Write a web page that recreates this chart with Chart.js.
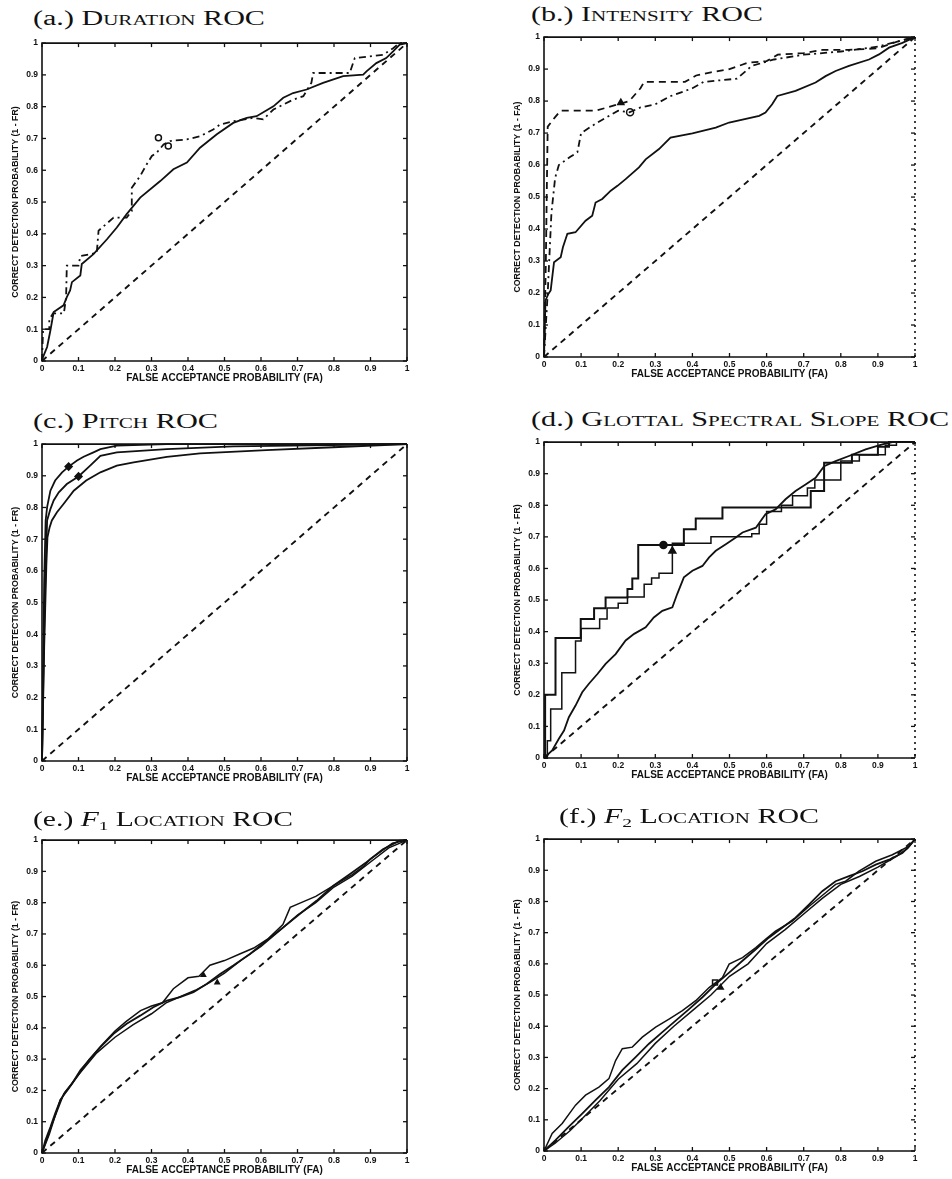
<!DOCTYPE html>
<html><head><meta charset="utf-8">
<script src="https://cdn.jsdelivr.net/npm/chart.js@4.4.1/dist/chart.umd.min.js"></script>
<style>
html,body{margin:0;padding:0;background:#fff;}
#wrap{position:relative;width:952px;height:1179px;overflow:hidden;background:#fff;}
canvas{position:absolute;}
.ttl{position:absolute;font-family:"Liberation Serif","DejaVu Serif",serif;font-size:20px;line-height:20px;color:#111;white-space:nowrap;transform-origin:0 50%;}
.ttl .nm{font-variant:small-caps;}
.ttl sub{font-size:0.65em;vertical-align:-0.3em;line-height:0;}
</style></head>
<body><div id="wrap"></div>
<script>
// ---------- tick labels & axis titles ----------
const xTickLabels = ['0','0.1','0.2','0.3','0.4','0.5','0.6','0.7','0.8','0.9','1'];
const yTickLabels = ['0','0.1','0.2','0.3','0.4','0.5','0.6','0.7','0.8','0.9','1'];
const xTitle = 'FALSE ACCEPTANCE PROBABILITY (FA)';
const yTitleFR = 'CORRECT DETECTION PROBABILITY (1 - FR)';
const yTitleFA = 'CORRECT DETECTION PROBABILITY (1 - FA)';
const panelLabels = ['(a.)','(b.)','(c.)','(d.)','(e.)','(f.)'];
const panelNames = ['Duration ROC','Intensity ROC','Pitch ROC','Glottal Spectral Slope ROC','<i>F</i><sub>1</sub> Location ROC','<i>F</i><sub>2</sub> Location ROC'];
const chance = [[0,0],[1,1]];

// ---------- (a) Duration ----------
const aSolid = [[0,0],[0.003,0.013],[0.014,0.044],[0.023,0.096],[0.032,0.154],[0.059,0.175],[0.068,0.201],[0.077,0.222],[0.082,0.248],[0.105,0.269],[0.109,0.305],[0.141,0.336],[0.178,0.383],[0.205,0.42],[0.232,0.462],[0.269,0.514],[0.324,0.566],[0.36,0.603],[0.397,0.624],[0.433,0.671],[0.479,0.713],[0.524,0.749],[0.561,0.765],[0.588,0.77],[0.634,0.801],[0.661,0.828],[0.688,0.843],[0.725,0.854],[0.77,0.875],[0.825,0.896],[0.88,0.901],[0.889,0.911],[0.916,0.937],[0.943,0.953],[0.962,0.974],[0.98,0.995],[1,1]];
const aDash = [[0,0],[0.003,0.1],[0.02,0.1],[0.02,0.13],[0.03,0.15],[0.06,0.15],[0.066,0.2],[0.068,0.3],[0.1,0.3],[0.105,0.33],[0.15,0.34],[0.155,0.41],[0.196,0.451],[0.232,0.451],[0.246,0.472],[0.246,0.545],[0.269,0.582],[0.287,0.619],[0.301,0.645],[0.314,0.655],[0.333,0.681],[0.351,0.692],[0.397,0.697],[0.433,0.707],[0.469,0.728],[0.488,0.744],[0.524,0.754],[0.579,0.765],[0.606,0.76],[0.634,0.791],[0.688,0.822],[0.716,0.833],[0.738,0.875],[0.743,0.906],[0.843,0.906],[0.857,0.953],[0.934,0.963],[0.962,0.984],[0.98,1],[1,1]];
const aMarks = [[0.319,0.702],[0.346,0.676]];

// ---------- (b) Intensity ----------
const bSolid = [[0,0],[0.004,0.177],[0.012,0.198],[0.018,0.208],[0.027,0.296],[0.045,0.312],[0.051,0.343],[0.063,0.385],[0.085,0.39],[0.112,0.426],[0.13,0.442],[0.139,0.483],[0.157,0.494],[0.18,0.52],[0.198,0.535],[0.22,0.556],[0.256,0.593],[0.274,0.618],[0.31,0.65],[0.341,0.686],[0.4,0.699],[0.463,0.717],[0.499,0.733],[0.58,0.754],[0.597,0.764],[0.615,0.79],[0.629,0.816],[0.678,0.832],[0.732,0.858],[0.759,0.878],[0.786,0.894],[0.822,0.91],[0.876,0.93],[0.903,0.946],[0.93,0.967],[0.966,0.982],[1,1]];
const bDashUpper = [[0,0],[0.005,0.3],[0.008,0.56],[0.01,0.72],[0.03,0.75],[0.045,0.77],[0.14,0.77],[0.2,0.79],[0.23,0.8],[0.26,0.84],[0.27,0.86],[0.38,0.86],[0.41,0.88],[0.45,0.89],[0.5,0.9],[0.55,0.92],[0.6,0.925],[0.63,0.945],[0.7,0.95],[0.75,0.96],[0.82,0.96],[0.9,0.965],[0.95,0.985],[1,1]];
const bDashLower = [[0,0],[0.01,0.2],[0.02,0.45],[0.03,0.56],[0.04,0.6],[0.07,0.625],[0.09,0.64],[0.1,0.7],[0.14,0.73],[0.17,0.75],[0.2,0.77],[0.23,0.765],[0.26,0.78],[0.3,0.79],[0.34,0.815],[0.4,0.84],[0.43,0.86],[0.52,0.87],[0.56,0.91],[0.62,0.93],[0.7,0.945],[0.8,0.955],[0.9,0.97],[1,1]];
const bMarkCircle = [[0.232,0.765]];
const bMarkTri = [[0.207,0.795]];

// ---------- (c) Pitch ----------
const cTop = [[0,0],[0.003,0.255],[0.006,0.57],[0.01,0.759],[0.014,0.801],[0.023,0.853],[0.036,0.885],[0.055,0.911],[0.073,0.929],[0.096,0.948],[0.114,0.96],[0.141,0.974],[0.16,0.984],[0.205,0.995],[0.342,1],[1,1]];
const cMid = [[0,0],[0.005,0.36],[0.009,0.57],[0.014,0.759],[0.023,0.795],[0.032,0.822],[0.046,0.848],[0.068,0.874],[0.1,0.898],[0.132,0.932],[0.16,0.963],[0.205,0.974],[0.342,0.984],[0.524,0.993],[1,1]];
const cLow = [[0,0],[0.006,0.36],[0.012,0.622],[0.015,0.706],[0.021,0.738],[0.027,0.759],[0.041,0.785],[0.059,0.811],[0.087,0.853],[0.121,0.885],[0.16,0.911],[0.205,0.932],[0.251,0.942],[0.342,0.96],[0.433,0.971],[0.615,0.981],[0.798,0.99],[1,1]];
const cMarks = [[0.073,0.929],[0.1,0.898]];

// ---------- (d) Glottal spectral slope ----------
const dStepA = [[0,0],[0.003,0.2],[0.031,0.38],[0.099,0.44],[0.135,0.474],[0.166,0.508],[0.225,0.535],[0.238,0.568],[0.254,0.674],[0.377,0.724],[0.409,0.758],[0.481,0.793],[0.719,0.845],[0.755,0.935],[0.83,0.96],[0.9,0.985],[0.93,1],[1,1]];
const dStepB = [[0,0],[0.009,0.055],[0.018,0.155],[0.048,0.27],[0.085,0.37],[0.1,0.41],[0.15,0.44],[0.17,0.475],[0.2,0.49],[0.225,0.51],[0.27,0.55],[0.29,0.57],[0.31,0.585],[0.346,0.68],[0.45,0.7],[0.56,0.71],[0.58,0.74],[0.6,0.78],[0.64,0.8],[0.67,0.83],[0.71,0.855],[0.73,0.88],[0.8,0.94],[0.85,0.96],[0.92,0.99],[0.95,1],[1,1]];
const dSmooth = [[0,0],[0.022,0.024],[0.04,0.061],[0.054,0.087],[0.067,0.129],[0.085,0.166],[0.103,0.208],[0.121,0.235],[0.144,0.266],[0.166,0.298],[0.193,0.329],[0.22,0.372],[0.243,0.393],[0.274,0.414],[0.296,0.445],[0.319,0.466],[0.346,0.477],[0.359,0.519],[0.377,0.572],[0.4,0.593],[0.427,0.608],[0.445,0.635],[0.463,0.656],[0.49,0.677],[0.517,0.698],[0.535,0.714],[0.571,0.729],[0.597,0.772],[0.624,0.787],[0.651,0.819],[0.678,0.845],[0.705,0.866],[0.732,0.887],[0.755,0.924],[0.786,0.94],[0.822,0.956],[0.867,0.977],[0.912,0.993],[0.939,1],[1,1]];
const dMarkDot = [[0.322,0.674]];
const dMarkTri = [[0.346,0.655]];

// ---------- (e) F1 location ----------
const eMain = [[0,0],[0.009,0.04],[0.023,0.083],[0.036,0.126],[0.05,0.168],[0.064,0.195],[0.082,0.221],[0.105,0.264],[0.128,0.296],[0.16,0.338],[0.196,0.381],[0.232,0.413],[0.269,0.439],[0.305,0.466],[0.342,0.487],[0.378,0.498],[0.415,0.514],[0.451,0.54],[0.488,0.572],[0.524,0.599],[0.57,0.636],[0.615,0.679],[0.661,0.721],[0.706,0.764],[0.752,0.806],[0.798,0.854],[0.843,0.891],[0.889,0.929],[0.934,0.971],[0.98,0.998],[1,1]];
const eUpper = [[0,0],[0.02,0.06],[0.05,0.17],[0.07,0.2],[0.1,0.25],[0.13,0.3],[0.16,0.34],[0.2,0.39],[0.23,0.42],[0.27,0.455],[0.3,0.47],[0.33,0.48],[0.36,0.525],[0.4,0.56],[0.43,0.565],[0.46,0.6],[0.5,0.615],[0.54,0.635],[0.58,0.655],[0.62,0.685],[0.66,0.73],[0.68,0.785],[0.71,0.8],[0.75,0.82],[0.8,0.855],[0.85,0.89],[0.88,0.915],[0.9,0.94],[0.93,0.965],[0.96,0.99],[1,1]];
const eLower = [[0,0],[0.03,0.1],[0.06,0.19],[0.1,0.25],[0.15,0.32],[0.2,0.37],[0.25,0.41],[0.3,0.445],[0.34,0.48],[0.38,0.5],[0.42,0.52],[0.46,0.545],[0.5,0.575],[0.55,0.62],[0.6,0.66],[0.65,0.71],[0.7,0.76],[0.75,0.8],[0.8,0.85],[0.85,0.885],[0.9,0.93],[0.95,0.975],[1,1]];
const eMarks = [[0.442,0.569],[0.48,0.545]];

// ---------- (f) F2 location ----------
const fMain = [[0,0],[0.031,0.035],[0.067,0.078],[0.103,0.12],[0.139,0.163],[0.175,0.205],[0.211,0.259],[0.247,0.301],[0.283,0.344],[0.319,0.381],[0.355,0.418],[0.391,0.455],[0.427,0.493],[0.463,0.535],[0.499,0.572],[0.535,0.61],[0.571,0.647],[0.606,0.684],[0.642,0.716],[0.678,0.748],[0.714,0.79],[0.75,0.833],[0.786,0.865],[0.822,0.881],[0.858,0.897],[0.894,0.918],[0.93,0.934],[0.966,0.955],[0.984,0.977],[1,1]];
const fUpper = [[0,0],[0.022,0.056],[0.049,0.088],[0.085,0.147],[0.112,0.179],[0.148,0.205],[0.175,0.232],[0.193,0.29],[0.211,0.328],[0.238,0.333],[0.265,0.365],[0.301,0.397],[0.337,0.423],[0.373,0.45],[0.409,0.482],[0.445,0.524],[0.481,0.556],[0.499,0.599],[0.535,0.62],[0.571,0.652],[0.597,0.679],[0.624,0.705],[0.669,0.737],[0.714,0.784],[0.759,0.828],[0.786,0.855],[0.813,0.865],[0.849,0.897],[0.894,0.929],[0.939,0.95],[0.984,0.977],[1,1]];
const fLower = [[0,0],[0.03,0.025],[0.07,0.065],[0.1,0.1],[0.15,0.16],[0.2,0.23],[0.25,0.28],[0.3,0.345],[0.35,0.4],[0.4,0.45],[0.45,0.5],[0.5,0.56],[0.55,0.6],[0.6,0.665],[0.65,0.71],[0.7,0.76],[0.75,0.81],[0.8,0.855],[0.85,0.88],[0.9,0.91],[0.95,0.945],[0.98,0.97],[1,1]];
const fMarkSq = [[0.461,0.54]];
const fMarkTri = [[0.476,0.524]];

// ---------- drawing ----------
const wrap = document.getElementById('wrap');
const INK = '#111';
const toPts = arr => arr.map(p => ({x:p[0], y:p[1]}));

function line(arr, opts={}) {
  return Object.assign({data: toPts(arr), showLine: true, pointRadius: 0, borderColor: INK,
    borderWidth: 1.8, fill: false, tension: 0, clip: 4}, opts);
}
function marks(arr, style, filled, r=3.5) {
  return {data: toPts(arr), showLine: false, pointRadius: r, pointStyle: style,
    borderColor: INK, borderWidth: 1.5, backgroundColor: filled ? INK : '#fff', clip: 6};
}
const diag = () => line(chance, {borderDash:[6,5], borderWidth: 1.9});

const frameTicks = {
  id: 'frameTicks',
  afterDatasetsDraw(chart, args, opts) {
    const {ctx, chartArea: a, scales: {x, y}} = chart;
    ctx.save();
    ctx.strokeStyle = INK; ctx.lineWidth = 1.6; ctx.lineCap = 'butt';
    ctx.beginPath();
    ctx.moveTo(a.right, a.top); ctx.lineTo(a.left, a.top); ctx.lineTo(a.left, a.bottom); ctx.lineTo(a.right, a.bottom);
    ctx.stroke();
    if (opts.dottedRight) ctx.setLineDash([2, 4]);
    ctx.beginPath(); ctx.moveTo(a.right, a.top); ctx.lineTo(a.right, a.bottom); ctx.stroke();
    ctx.setLineDash([]);
    ctx.lineWidth = 1.3;
    const L = 4;
    const seg = (x1, y1, x2, y2) => { ctx.beginPath(); ctx.moveTo(x1, y1); ctx.lineTo(x2, y2); ctx.stroke(); };
    x.ticks.forEach(t => { const p = x.getPixelForValue(t.value); seg(p, a.bottom, p, a.bottom - L); seg(p, a.top, p, a.top + L); });
    y.ticks.forEach(t => { const p = y.getPixelForValue(t.value); seg(a.left, p, a.left + L, p); seg(a.right, p, a.right - L, p); });
    ctx.restore();
  }
};

const axFont = {family: '"Liberation Sans", Arial, sans-serif', weight: 'bold', size: 8.5};
const xTtlFont = {family: '"Liberation Sans", Arial, sans-serif', weight: 'bold', size: 10};
const yTtlFont = {family: '"Liberation Sans", Arial, sans-serif', weight: 'bold', size: 8.8};

function panel(L, T, R, B, datasets, yTitle, dottedRight) {
  const c = document.createElement('canvas');
  const W = R - L + 44 + 12, H = B - T + 8 + 26;
  c.width = W; c.height = H;
  c.style.left = (L - 44) + 'px'; c.style.top = (T - 8) + 'px';
  c.style.width = W + 'px'; c.style.height = H + 'px';
  wrap.appendChild(c);
  new Chart(c, {
    type: 'scatter',
    data: {datasets},
    options: {
      responsive: false, animation: false, devicePixelRatio: 1,
      layout: {padding: {top: 8, right: 12, left: 0, bottom: 0}},
      plugins: {legend: {display: false}, tooltip: {enabled: false}, frameTicks: {dottedRight}},
      scales: {
        x: {type: 'linear', min: 0, max: 1, grid: {display: false, drawTicks: false}, border: {display: false},
          ticks: {stepSize: 0.1, autoSkip: false, maxRotation: 0, padding: 3, color: INK, font: axFont,
            callback: (v, i) => xTickLabels[i]},
          title: {display: true, text: xTitle, color: INK, font: xTtlFont, padding: {top: 0, bottom: 3}},
          afterFit: s => { s.height = 26; }},
        y: {type: 'linear', min: 0, max: 1, grid: {display: false, drawTicks: false}, border: {display: false},
          ticks: {stepSize: 0.1, autoSkip: false, padding: 4, color: INK, font: axFont,
            callback: (v, i) => yTickLabels[i]},
          title: {display: true, text: yTitle, color: INK, font: yTtlFont, padding: {top: 12, bottom: 0}},
          afterFit: s => { s.width = 44; }}
      }
    },
    plugins: [frameTicks]
  });
}

function title(i, left, cy, targetW) {
  const d = document.createElement('div');
  d.className = 'ttl';
  d.innerHTML = panelLabels[i] + ' <span class="nm">' + panelNames[i] + '</span>';
  d.style.left = left + 'px'; d.style.top = (cy - 11) + 'px';
  wrap.appendChild(d);
  const w = d.getBoundingClientRect().width;
  d.style.transform = 'scaleX(' + (targetW / w).toFixed(3) + ')';
}

const dashDot = [7, 4, 2, 4];
const dashed = [7, 5];

// (a)
panel(42, 42, 407, 361, [
  line(aSolid), line(aDash, {borderDash: dashDot}), diag(), marks(aMarks, 'circle', false, 3)
], yTitleFR, false);
// (b)
panel(544, 36, 915, 357, [
  line(bSolid), line(bDashUpper, {borderDash: dashed}), line(bDashLower, {borderDash: dashDot}), diag(),
  marks(bMarkCircle, 'circle', false, 3.5), marks(bMarkTri, 'triangle', true, 3.5)
], yTitleFA, true);
// (c)
panel(42, 443, 407, 761, [
  line(cTop), line(cMid), line(cLow), diag(), marks(cMarks, 'rectRot', true, 3.5)
], yTitleFR, false);
// (d)
panel(544, 441, 915, 758, [
  line(dStepA, {stepped: 'before', borderWidth: 2}), line(dStepB, {stepped: 'before', borderWidth: 1.5}),
  line(dSmooth), diag(), marks(dMarkDot, 'circle', true, 3.5), marks(dMarkTri, 'triangle', true, 4)
], yTitleFR, true);
// (e)
panel(42, 839, 407, 1153, [
  line(eMain), line(eUpper, {borderWidth: 1.5}), line(eLower, {borderWidth: 1.5}), diag(), marks(eMarks, 'triangle', true, 2.5)
], yTitleFR, false);
// (f)
panel(544, 838, 915, 1151, [
  line(fMain), line(fUpper, {borderWidth: 1.5}), line(fLower, {borderWidth: 1.5}), diag(),
  marks(fMarkSq, 'rect', false, 3.5), marks(fMarkTri, 'triangle', true, 3)
], yTitleFR, true);

// titles
title(0, 33, 19, 232);
title(1, 531, 15, 232);
title(2, 33, 422, 185);
title(3, 531, 420, 418);
title(4, 33, 820, 260);
title(5, 559, 817, 260);
</script>
</body></html>
